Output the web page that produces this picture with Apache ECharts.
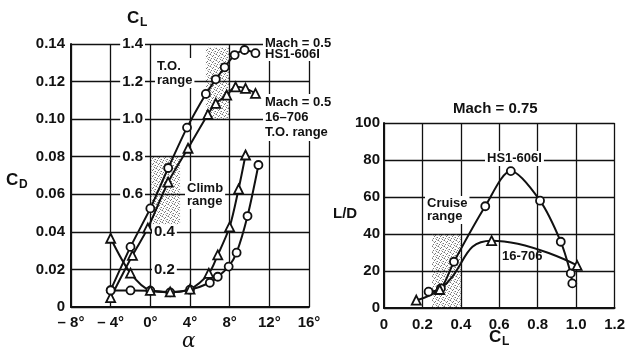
<!DOCTYPE html>
<html>
<head>
<meta charset="utf-8">
<script src="https://cdn.jsdelivr.net/npm/echarts@6/dist/echarts.min.js"></script>
<style>
  html, body { margin: 0; padding: 0; background: #fff; }
  #chart { width: 628px; height: 355px; }
</style>
</head>
<body>
<div id="chart"></div>
<script>
// left plot: CL and CD against alpha, Mach 0.5
const alphaHsCL = [-4, -2, 0, 1.8, 3.7, 5.6, 6.6, 7.5, 8.5, 9.5, 10.6];
const clHs = [0.09, 0.32, 0.525, 0.74, 0.955, 1.134, 1.212, 1.276, 1.341, 1.368, 1.351];
const alpha16CL = [-4, -1.8, -0.25, 1.8, 3.8, 5.8, 6.6, 7.7, 8.6, 9.6, 10.6];
const cl16 = [0.05, 0.275, 0.42, 0.665, 0.845, 1.025, 1.084, 1.128, 1.172, 1.164, 1.137];
const alphaHsCD = [-4, -2, 0, 2, 4, 6, 6.8, 7.9, 8.7, 9.8, 10.9];
const cdHs = [0.0088, 0.0088, 0.0087, 0.0078, 0.0092, 0.0129, 0.0161, 0.0215, 0.0289, 0.0484, 0.0756];
const alpha16CD = [-4, -2, 0, 2, 4, 5.9, 6.8, 8, 8.9, 9.6];
const cd16 = [0.0366, 0.018, 0.0088, 0.008, 0.0095, 0.0179, 0.0277, 0.0427, 0.0628, 0.0809];

// right plot: L/D against CL, Mach 0.75
const clHsLD = [0.232, 0.296, 0.364, 0.527, 0.66, 0.812, 0.92, 0.972, 0.98];
const ldHs = [8.8, 10.6, 25, 55, 74, 58, 35.8, 18.7, 13.3];
const cl16LD = [0.168, 0.29, 0.56, 1.005];
const ld16 = [4.3, 10, 36.4, 23];

// shaded ranges [x0, x1, y0, y1]
const toRange = [5.6, 8, 1.0, 1.38];
const climbRange = [0.1, 3, 0.44, 0.8];
const cruiseRange = [0.25, 0.4, 0, 40];

const alphaTicks = ['– 8°', '– 4°', '0°', '4°', '8°', '12°', '16°'];

const FONT = 'Liberation Sans, Arial, sans-serif';
const INK = '#111';

// stipple pattern for the shaded ranges (scattered grey dots)
function makeStipple() {
  const c = document.createElement('canvas');
  c.width = 6; c.height = 6;
  const ctx = c.getContext('2d');
  ctx.fillStyle = 'rgba(60,60,60,0.7)';
  [[0, 0], [3, 1], [5, 3], [1, 4], [4, 5], [2, 2]].forEach(p => ctx.fillRect(p[0], p[1], 1, 1));
  ctx.fillStyle = 'rgba(60,60,60,0.3)';
  [[1, 1], [4, 3], [0, 5], [3, 4], [5, 0]].forEach(p => ctx.fillRect(p[0], p[1], 1, 1));
  return c;
}
const stipple = { image: makeStipple(), repeat: 'repeat' };

function pairs(xs, ys) {
  return xs.map((x, i) => [x, ys[i]]);
}

function shadeArea(r) {
  return {
    silent: true,
    itemStyle: { color: stipple },
    data: [[{ coord: [r[0], r[2]] }, { coord: [r[1], r[3]] }]]
  };
}

const chart = echarts.init(document.getElementById('chart'), null, { renderer: 'canvas' });

const gridLine = { show: true, lineStyle: { color: INK, width: 1.3, type: 'solid' } };
const frameLine = { show: true, onZero: false, lineStyle: { color: INK, width: 2 } };
const tickFont = { color: INK, fontFamily: FONT, fontWeight: 'bold', fontSize: 15 };

function lineSeries(name, xi, yi, data, symbol, smooth) {
  return {
    name: name,
    type: 'line',
    xAxisIndex: xi,
    yAxisIndex: yi,
    data: data,
    smooth: smooth,
    symbol: symbol,
    symbolSize: symbol === 'triangle' ? 9 : 8,
    showAllSymbol: true,
    color: INK,
    lineStyle: { color: INK, width: 2, type: 'solid' },
    itemStyle: { color: '#fff', borderColor: INK, borderWidth: 1.8, borderType: 'solid' },
    z: 3,
    animation: false
  };
}

function label(text, x, y, lh, bg) {
  return {
    type: 'text',
    x: x,
    y: y,
    z: 10,
    style: {
      text: text,
      font: 'bold 13px ' + FONT,
      fill: INK,
      backgroundColor: bg === false ? null : '#fff',
      padding: [1, 2],
      lineHeight: lh
    }
  };
}

const option = {
  backgroundColor: '#fff',
  animation: false,
  grid: [
    { left: 71, top: 44, width: 238, height: 263 },
    { left: 384, top: 123, width: 234, height: 185 }
  ],
  xAxis: [
    {
      type: 'value', gridIndex: 0, min: -8, max: 16, interval: 4,
      axisLine: frameLine, axisTick: { show: false }, splitLine: gridLine,
      axisLabel: Object.assign({ margin: 8, formatter: (v) => alphaTicks[(v + 8) / 4] }, tickFont)
    },
    {
      type: 'value', gridIndex: 1, min: 0, max: 1.2, interval: 0.2,
      axisLine: frameLine, axisTick: { show: false }, splitLine: gridLine,
      axisLabel: Object.assign({ margin: 9, formatter: (v) => v === 0 ? '0' : v.toFixed(1) }, tickFont)
    }
  ],
  yAxis: [
    {
      // CD
      type: 'value', gridIndex: 0, min: 0, max: 0.14, interval: 0.02,
      axisLine: frameLine, axisTick: { show: false }, splitLine: gridLine,
      axisLabel: Object.assign({ margin: 6, formatter: (v) => v === 0 ? '0' : v.toFixed(2) }, tickFont)
    },
    {
      // CL labels left of the 0 deg line
      type: 'value', gridIndex: 0, min: 0, max: 1.4, interval: 0.2,
      position: 'left', offset: -80, z: 4,
      axisLine: { show: false }, axisTick: { show: false }, splitLine: { show: false },
      axisLabel: Object.assign({
        margin: 6, backgroundColor: '#fff', padding: [0, 2],
        formatter: (v) => v >= 0.55 ? v.toFixed(1) : ''
      }, tickFont)
    },
    {
      // CL labels right of the 0 deg line
      type: 'value', gridIndex: 0, min: 0, max: 1.4, interval: 0.2,
      position: 'right', offset: -158, z: 4,
      axisLine: { show: false }, axisTick: { show: false }, splitLine: { show: false },
      axisLabel: Object.assign({
        margin: 1, backgroundColor: '#fff', padding: [0, 2],
        formatter: (v) => (v > 0.1 && v < 0.5) ? v.toFixed(1) : ''
      }, tickFont)
    },
    {
      // L/D
      type: 'value', gridIndex: 1, min: 0, max: 100, interval: 20,
      axisLine: frameLine, axisTick: { show: false }, splitLine: gridLine,
      axisLabel: Object.assign({ margin: 4 }, tickFont)
    }
  ],
  series: [
    Object.assign(lineSeries('HS1-606I CL', 0, 1, pairs(alphaHsCL, clHs), 'circle', 0.25), {
      markArea: shadeArea(toRange)
    }),
    Object.assign(lineSeries('16-706 CL', 0, 1, pairs(alpha16CL, cl16), 'triangle', 0.25), {
      markArea: shadeArea(climbRange)
    }),
    lineSeries('HS1-606I CD', 0, 0, pairs(alphaHsCD, cdHs), 'circle', 0.3),
    lineSeries('16-706 CD', 0, 0, pairs(alpha16CD, cd16), 'triangle', 0.3),
    Object.assign(lineSeries('HS1-606I L/D', 1, 3, pairs(clHsLD, ldHs), 'circle', 0.3), {
      markArea: shadeArea(cruiseRange)
    }),
    lineSeries('16-706 L/D', 1, 3, pairs(cl16LD, ld16), 'triangle', 0.5)
  ],
  graphic: [
    // axis names
    { type: 'text', x: 127, y: 10, style: { text: 'C', font: 'bold 17px ' + FONT, fill: INK } },
    { type: 'text', x: 140, y: 17, style: { text: 'L', font: 'bold 12px ' + FONT, fill: INK } },
    { type: 'text', x: 6, y: 172, style: { text: 'C', font: 'bold 17px ' + FONT, fill: INK } },
    { type: 'text', x: 19, y: 179, style: { text: 'D', font: 'bold 12px ' + FONT, fill: INK } },
    { type: 'text', x: 182, y: 332, style: { text: 'α', font: 'italic 20px DejaVu Serif, serif', fill: INK } },
    { type: 'text', x: 333, y: 206, style: { text: 'L/D', font: 'bold 15px ' + FONT, fill: INK } },
    { type: 'text', x: 489, y: 329, style: { text: 'C', font: 'bold 17px ' + FONT, fill: INK } },
    { type: 'text', x: 502, y: 336, style: { text: 'L', font: 'bold 12px ' + FONT, fill: INK } },
    { type: 'text', x: 453, y: 101, style: { text: 'Mach = 0.75', font: 'bold 15px ' + FONT, fill: INK } },
    // annotations
    label('T.O.\nrange', 155, 58, 14),
    label('Mach = 0.5\nHS1-606I', 263, 37, 11),
    label('Mach = 0.5\n16–706\nT.O. range', 263, 94, 15),
    label('Climb\nrange', 185, 181, 13),
    label('Cruise\nrange', 425, 196, 13),
    label('HS1-606I', 485, 151, 13),
    label('16-706', 500, 249, 13, false)
  ]
};

chart.setOption(option);
</script>
</body>
</html>
